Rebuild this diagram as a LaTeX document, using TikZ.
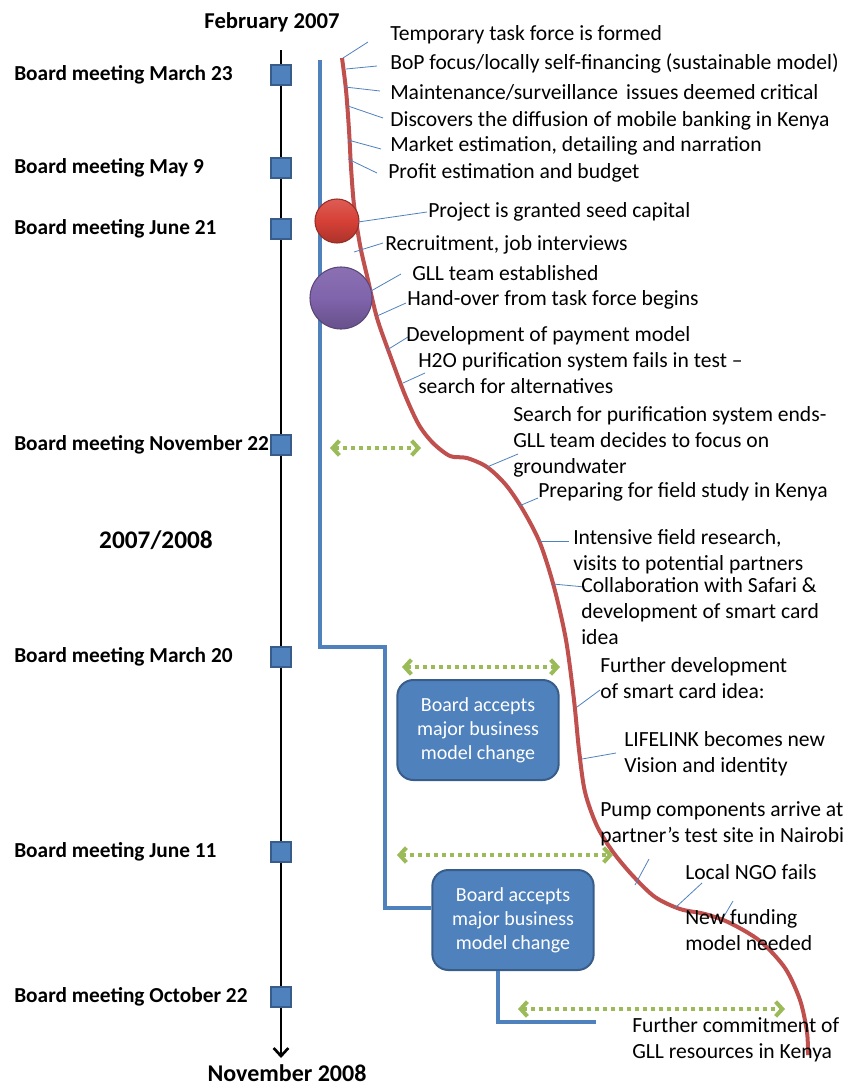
\documentclass[tikz,border=0pt]{standalone}
\usepackage{fontspec}
\setmainfont{Carlito}
\usetikzlibrary{arrows.meta,calc,positioning}
\definecolor{tlblue}{RGB}{79,129,189}
\definecolor{tlframe}{RGB}{56,93,138}
\definecolor{tlred}{RGB}{192,80,77}
\definecolor{tlball}{RGB}{214,64,54}
\definecolor{tlpurple}{RGB}{128,100,172}
\definecolor{tlgreen}{RGB}{155,187,89}

\begin{document}
\begin{tikzpicture}[x=0.75pt,y=-0.75pt,
      font=\fontsize{16.2}{19.5}\selectfont,
      ev/.style={anchor=west,inner sep=0pt,align=left},
      meet/.style={anchor=west,inner sep=0pt,font=\fontsize{16}{19}\selectfont\bfseries},
      period/.style={inner sep=0pt,font=\fontsize{17}{20}\selectfont\bfseries},
      sq/.style={draw=tlframe,fill=tlblue,line width=1pt,minimum size=15pt,inner sep=0pt},
      call/.style={draw=tlblue,line width=0.6pt},
      track/.style={draw=tlblue,line width=3pt},
      ball/.style={circle,line width=0.8pt,shading=axis,shading angle=0},
      decide/.style={draw=tlframe,fill=tlblue,line width=1.5pt,rounded corners=12pt,
        minimum width=121pt,minimum height=75pt,align=center,text=white,
        font=\fontsize{15}{18}\selectfont},
      gap/.style={tlgreen,line width=3pt,dash pattern=on 3pt off 3pt,
        {Straight Barb[length=5pt,width=11pt]}-{Straight Barb[length=5pt,width=11pt]}}]
    \useasboundingbox (0,0) rectangle (857,1086);

    % time axis with board meetings
    \coordinate (top) at (281,50);
    \coordinate (bot) at (281,1058);
    \draw[line width=2pt,-{Straight Barb[length=6pt,width=11pt]}] (top) -- (bot);
    \node[period] (feb) at (272,22) {February 2007};
    \node[period,font=\fontsize{18}{21}\selectfont\bfseries] (nov) at (287,1073) {November 2008};
    \node[period,font=\fontsize{19}{22}\selectfont\bfseries] (mid) at (156,540) {2007/2008};
    \foreach \y/\n/\t in {75/m1/March 23,168/m2/May 9,229/m3/June 21,445/m4/November 22,
        657/m5/March 20,852/m6/June 11,997/m7/October 22} {
      \node[meet] (\n-l) at (14,\y) {Board meeting \t};
      \node[sq] (\n) at (281,\y) {};
    }

    % decisions of the board
    \node[decide] (box1) at (478,730) {Board accepts\\major business\\model change};
    \node[decide] (box2) at (513,920) {Board accepts\\major business\\model change};
    \coordinate (b0) at (320,60);
    \coordinate (b1) at (385,647);
    \coordinate (b2) at (596,1022);
    \draw[track] (b0) |- (b1) |- ($(box2.west)+(0,-12)$);
    \draw[track] ($(box2.south)+(-15,0)$) |- (b2);

    % project path
    \draw[tlred,line width=3pt] plot[smooth] coordinates {(342,58) (346,90) (349,130)
      (351,167) (354,205) (360,245) (368,280) (377,318) (390,355) (405,395) (419,425)
      (433,443) (450,456) (467,458) (487,467) (506,485) (523,510) (540,543) (554,587)
      (566,640) (574,700) (579,750) (585,792) (597,826) (613,852) (633,876) (655,897)
      (680,909) (705,914) (730,923) (760,941) (785,968) (800,1000) (807,1032) (808,1055)};

    \node[ball,draw=tlball!70!black,top color=tlball!85!white,bottom color=tlball!80!black,
      middle color=tlball,minimum size=33pt] (seed) at (337,221) {};
    \node[ball,draw=tlpurple!70!black,top color=tlpurple!92!white,bottom color=tlpurple!80!black,
      middle color=tlpurple,minimum size=46.5pt] (team) at (341,298) {};

    % gaps between decision and action
    \coordinate (g1a) at (330,448); \coordinate (g1b) at (421,448);
    \coordinate (g2a) at (402,667); \coordinate (g2b) at (560,667);
    \coordinate (g3a) at (397,855); \coordinate (g3b) at (613,855);
    \coordinate (g4a) at (518,1009); \coordinate (g4b) at (785,1009);
    \foreach \n in {1,...,4} \draw[gap] (g\n a) -- (g\n b);

    % callouts
    \foreach \n/\sx/\sy/\ex/\ey in {1/343/58/368/42,2/346/69/377/66,3/345/87/380/91,
        4/348/106/383/118,5/348/140/381/149,6/348/159/377/173,7/358/222/427/212,
        8/354/252/383/243,9/371/291/401/274,10/377/316/406/303,11/387/350/408/337,
        12/403/383/425/373,13/487/467/518/454,14/519/506/538/498,15/540/541/569/541,
        16/553/584/585/587,17/577/707/600/690,18/582/759/616/753,19/635/885/649/859,
        20/675/908/702/883,21/723/918/733/901} {
      \coordinate (c\n) at (\sx,\sy);
      \coordinate (e\n) at (\ex,\ey);
      \draw[call] (c\n) -- (e\n);
    }

    % events
    \node[ev] (t1) at (390,35) {Temporary task force is formed};
    \node[ev] (t2) at (390,63) {BoP focus/locally self-financing (sustainable model)};
    \node[ev] (t3) at (390,92) {Maintenance/surveillance\hspace{0.15em} issues deemed critical};
    \node[ev] (t4) at (390,121) {Discovers the diffusion of mobile banking in Kenya};
    \node[ev] (t5) at (390,146) {Market estimation, detailing and narration};
    \node[ev] (t6) at (388,173) {Profit estimation and budget};
    \node[ev] (t7) at (428,212) {Project is granted seed capital};
    \node[ev] (t8) at (385,245) {Recruitment, job interviews};
    \node[ev] (t9) at (412,273) {GLL team established};
    \node[ev] (t10) at (407,300) {Hand-over from task force begins};
    \node[ev] (t11) at (406,336) {Development of payment model};
    \node[ev] (t12) at (418,373) {H2O purification system fails in test –\\search for alternatives};
    \node[ev] (t13) at (513,442) {Search for purification system ends-\\GLL team decides to focus on\\groundwater};
    \node[ev] (t14) at (538,492) {Preparing for field study in Kenya};
    \node[ev] (t15) at (573,552) {Intensive field research,\\visits to potential partners};
    \node[ev] (t16) at (581,611) {Collaboration with Safari \&\\development of smart card\\idea};
    \node[ev] (t17) at (600,678) {Further development\\of smart card idea:};
    \node[ev] (t18) at (624,754) {LIFELINK becomes new\\Vision and identity};
    \node[ev] (t19) at (600,824) {Pump components arrive at\\partner’s test site in Nairobi};
    \node[ev] (t20) at (685,872) {Local NGO fails};
    \node[ev] (t21) at (685,930) {New funding\\model needed};
    \node[ev] (t22) at (632,1040) {Further commitment of\\GLL resources in Kenya};
\end{tikzpicture}
\end{document}
